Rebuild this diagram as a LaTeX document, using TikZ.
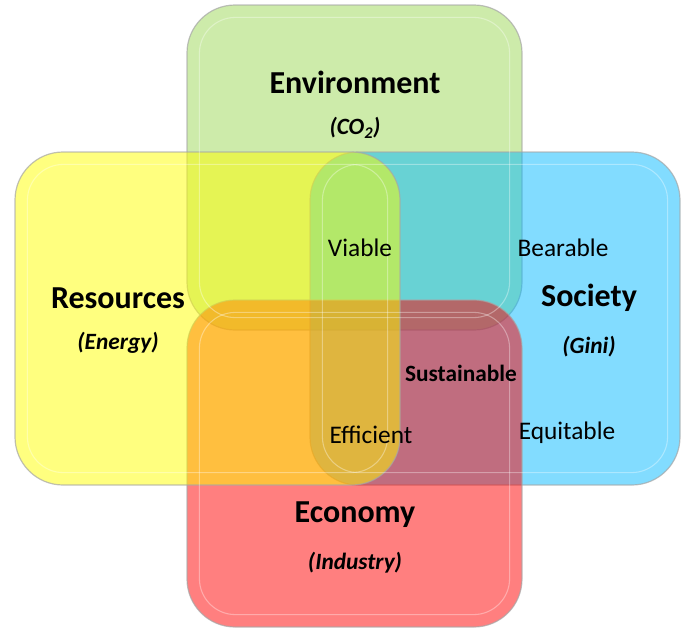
\documentclass[tikz,border=0pt]{standalone}
\usepackage{fontspec}
\setmainfont{Carlito}
\usetikzlibrary{positioning}

\definecolor{envgreen}{RGB}{155,215,85}
\definecolor{socblue}{RGB}{5,185,255}
\definecolor{ecored}{RGB}{255,0,0}
\definecolor{resyellow}{RGB}{255,255,0}

\tikzset{
  area/.style={draw=black!35, draw opacity=0.7, line width=0.9pt, rounded corners=36pt,
    fill opacity=0.5, inner sep=0pt},
  bevel/.style={draw=white, draw opacity=0.35, line width=0.8pt, rounded corners=27pt},
  title/.style={font=\bfseries\fontsize{24}{27}\selectfont},
  sub/.style={font=\bfseries\itshape\fontsize{17.5}{20}\selectfont},
  quality/.style={font=\fontsize{19}{22}\selectfont},
}

\begin{document}
\begin{tikzpicture}[x=0.75pt, y=-0.75pt]
  \useasboundingbox (0,0) rectangle (683,629);

  % the four areas, in stacking order
  \node[area, fill=envgreen, minimum width=251.25pt, minimum height=243.75pt] (env) at (354.5,167.5) {};
  \node[area, fill=socblue, minimum width=277.5pt, minimum height=249.75pt] (soc) at (495,318.5) {};
  \node[area, fill=ecored, minimum width=251.25pt, minimum height=245.25pt] (eco) at (354.5,463.5) {};
  \node[area, fill=resyellow, minimum width=288.75pt, minimum height=249.75pt] (res) at (207.5,318.5) {};

  % inner bevel lines
  \foreach \n in {env,soc,eco,res}
    \draw[bevel] ([shift={(13,13)}]\n.north west) rectangle ([shift={(-13,-13)}]\n.south east);

  % area labels
  \node[title] (envname) at (355,82) {Environment};
  \node[sub, below=11pt of envname] (envsub) {(CO\textsubscript{2})};
  \node[title] (resname) at (118,298) {Resources};
  \node[sub, below=11pt of resname] (ressub) {(Energy)};
  \node[title] (socname) at (589,298) {Society};
  \node[sub, below=11pt of socname] (socsub) {(Gini)};
  \node[title] (econame) at (355,515) {Economy};
  \node[sub, below=11pt of econame] (ecosub) {(Industry)};

  % overlaps
  \node[quality] (viable) at (360,248) {Viable};
  \node[quality] (bearable) at (563,248) {Bearable};
  \node[font=\bfseries\fontsize{17.5}{20}\selectfont] (sustainable) at (461,373) {Sustainable};
  \node[quality] (efficient) at (371,435) {Efficient};
  \node[quality] (equitable) at (567,433) {Equitable};
\end{tikzpicture}
\end{document}
